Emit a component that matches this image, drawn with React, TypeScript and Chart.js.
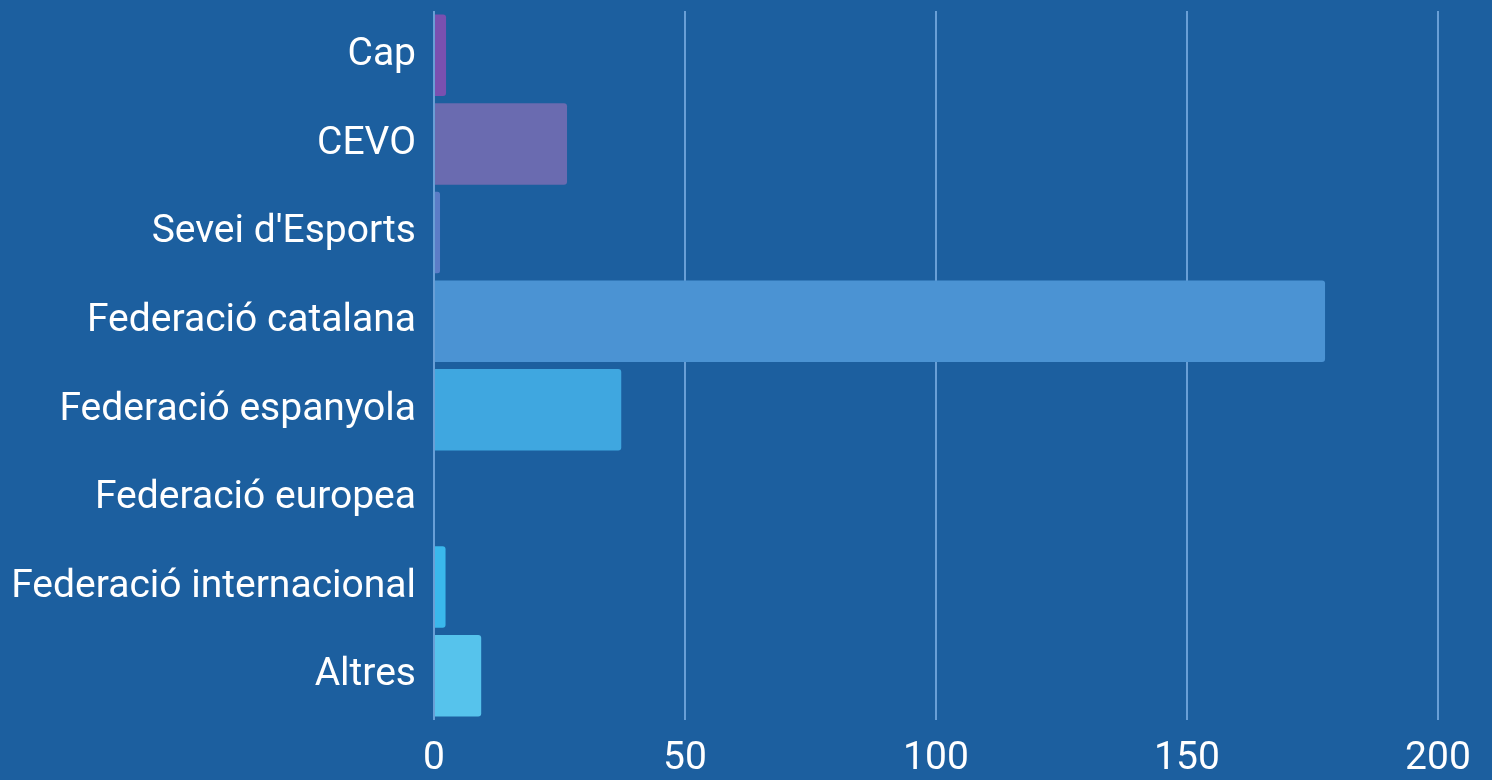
import React, { useEffect, useRef } from "react";
import { Chart, registerables } from "chart.js";

Chart.register(...registerables);

const categories = [
  "Cap",
  "CEVO",
  "Sevei d'Esports",
  "Federació catalana",
  "Federació espanyola",
  "Federació europea",
  "Federació internacional",
  "Altres",
];
const values = [2.4, 26.5, 1.2, 177.5, 37.3, 0, 2.3, 9.4];
const barColors = [
  "#7a50b0",
  "#6a6bb0",
  "#5b7cc6",
  "#4b93d3",
  "#3fa7e0",
  "#3eb3e8",
  "#3ab8ec",
  "#56c3ec",
];
const xTicks = [0, 50, 100, 150, 200];

export default function App() {
  const ref = useRef<HTMLCanvasElement | null>(null);
  useEffect(() => {
    if (!ref.current) return;
    const font = "Roboto, sans-serif";
    const chart = new Chart(ref.current, {
      type: "bar",
      data: {
        labels: categories,
        datasets: [
          {
            data: values,
            backgroundColor: barColors,
            borderRadius: 3,
            borderSkipped: "start",
            barPercentage: 0.92,
            categoryPercentage: 1,
          },
        ],
      },
      options: {
        indexAxis: "y",
        animation: false,
        responsive: true,
        maintainAspectRatio: false,
        layout: { padding: { left: 0, right: 54, top: 11, bottom: 0 } },
        plugins: { legend: { display: false }, tooltip: { enabled: false } },
        scales: {
          x: {
            min: 0,
            max: 200,
            afterBuildTicks: (axis: any) => {
              axis.ticks = xTicks.map((v) => ({ value: v }));
            },
            afterFit: (axis: any) => {
              axis.paddingRight = 0;
              axis.height = 60;
            },
            grid: {
              color: "rgba(125,175,228,0.8)",
              lineWidth: 2,
              drawTicks: false,
            },
            border: { display: false },
            ticks: {
              color: "#ffffff",
              font: { family: font, size: 39 },
              padding: 16,
            },
          },
          y: {
            afterFit: (axis: any) => {
              axis.paddingTop = 0;
              axis.paddingBottom = 0;
              axis.width = 434;
            },
            grid: { display: false },
            border: { display: false },
            ticks: {
              color: "#ffffff",
              font: { family: font, size: 39 },
              padding: 10,
            },
          },
        },
      },
    });
    return () => chart.destroy();
  }, []);
  return (
    <div
      style={{
        position: "fixed",
        left: 0,
        top: 0,
        width: 1492,
        height: 780,
        background: "#1c5f9f",
      }}
    >
      <canvas ref={ref} />
    </div>
  );
}
